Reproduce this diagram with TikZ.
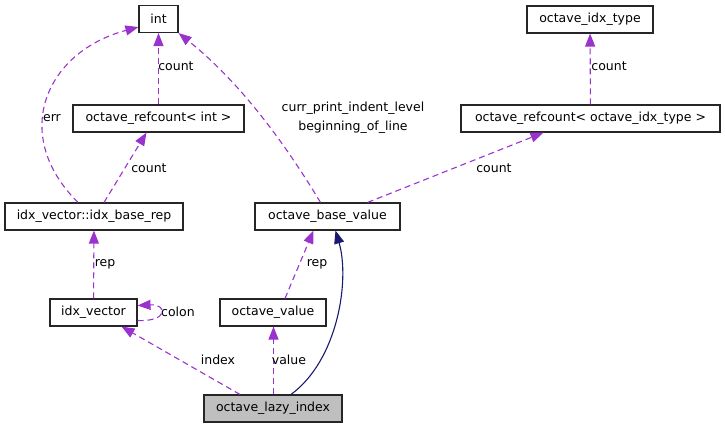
\documentclass[tikz,border=0pt]{standalone}
\usepackage{fontspec}
\setmainfont{DejaVu Sans}
\usepackage{tikz}
\usetikzlibrary{arrows.meta}
\definecolor{depcol}{HTML}{9A32CD}
\definecolor{inhcol}{HTML}{191970}
\definecolor{curcol}{HTML}{BFBFBF}
\tikzset{
    cls/.style={draw=black!85, line width=1.1pt, fill=white, inner sep=0pt,
        minimum height=27pt, font=\fontsize{12.5}{15}\selectfont},
    dep/.style={draw=depcol, line width=1.1pt, dash pattern=on 6pt off 4pt,
        -{Triangle[length=13pt, width=10pt, fill=depcol]}},
    inh/.style={draw=inhcol, line width=1.1pt,
        -{Triangle[length=13pt, width=10pt, fill=inhcol]}},
    lbl/.style={inner sep=0pt, align=center, font=\fontsize{12.5}{19}\selectfont}
}

\begin{document}
\begin{tikzpicture}[x=1pt, y=-1pt]
    \useasboundingbox (0,0) rectangle (725,429);

    % top row
    \node[cls, minimum width=39pt]  (int)     at (158.5,19)  {int};
    \node[cls, minimum width=126pt] (idxtype) at (590,19.5)  {octave\_idx\_type};

    % refcounts
    \node[cls, minimum width=171pt] (rcint)   at (158.5,118.5) {octave\_refcount< int >};
    \node[cls, minimum width=259pt] (rcidx)   at (590.5,118.5) {octave\_refcount< octave\_idx\_type >};

    % middle row
    \node[cls, minimum width=178pt] (ibrep)   at (94,216.5)  {idx\_vector::idx\_base\_rep};
    \node[cls, minimum width=145pt] (obv)     at (327.5,216.5) {octave\_base\_value};

    % lower row
    \node[cls, minimum width=87pt]  (idxvec)  at (93.5,312.5) {idx\_vector};
    \node[cls, minimum width=106pt] (ovalue)  at (273,312.5)  {octave\_value};

    % the class itself
    \node[cls, fill=curcol, minimum width=138pt] (oli) at (273,408.5) {octave\_lazy\_index};

    % members
    \draw[dep] (rcint) -- (int) node[lbl] at (176,66) {count};
    \draw[dep] (rcidx) -- (idxtype) node[lbl] at (609,66) {count};
    \draw[dep] ([xshift=-16pt]ibrep.north) .. controls (10,135) and (45,52) ..
        ([yshift=6pt]int.south west) node[lbl] at (52,118) {err};
    \draw[dep] ([xshift=10pt]ibrep.north) -- ([xshift=-12pt]rcint.south)
        node[lbl] at (149,168) {count};
    \draw[dep] ([xshift=-7pt]obv.north) .. controls (280,135) and (235,78) ..
        (int.south east) node[lbl] at (353,117.5) {curr\_print\_indent\_level\\beginning\_of\_line};
    \draw[dep] ([xshift=40pt]obv.north) -- ([xshift=-47pt]rcidx.south)
        node[lbl] at (494,168) {count};
    \draw[dep] (idxvec) -- (ibrep) node[lbl] at (105,264) {rep};
    \draw[dep] ([yshift=-8pt]idxvec.east) .. controls (168,322) and (168,304) ..
        ([yshift=7pt]idxvec.east) node[lbl] at (178,312) {colon};
    \draw[dep] ([xshift=12pt]ovalue.north) -- ([xshift=-14pt]obv.south)
        node[lbl] at (317,264) {rep};
    \draw[dep] ([xshift=-33pt]oli.north) -- ([xshift=28pt]idxvec.south)
        node[lbl] at (218,360) {index};
    \draw[dep] ([xshift=0.5pt]oli.north) -- ([xshift=0.5pt]ovalue.south)
        node[lbl] at (289,360) {value};

    % base class
    \draw[inh] ([xshift=18pt]oli.north) .. controls (338,360) and (350,280) ..
        ([xshift=8pt]obv.south);
\end{tikzpicture}
\end{document}
